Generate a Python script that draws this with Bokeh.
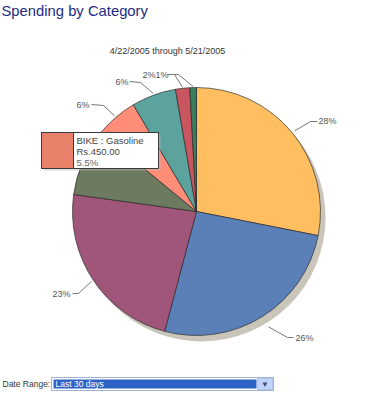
import math
from bokeh.plotting import figure
from bokeh.models import Range1d
from bokeh.core.properties import value
from bokeh.embed import file_html
from bokeh.resources import INLINE

# ---------------- data ----------------
categories = ["Category A", "Category B", "Category C", "Category D",
              "BIKE : Gasoline", "Category F", "Category G", "Category H"]
amounts = [2280, 2110, 1870, 710, 450, 470, 150, 70]
colors = ["#FFBF60", "#5B80B8", "#A0557A", "#6C7A5F",
          "#FF8D78", "#5CA39E", "#C9565F", "#3B7C5D"]
title_text = "Spending by Category"
subtitle_text = "4/22/2005 through 5/21/2005"
currency = "Rs."
tooltip_index = 4
date_range_label = "Date Range:"
date_range_value = "Last 30 days"

# ---------------- layout (page pixel coords) ----------------
FONT = value("Liberation Sans")
W, H = 372, 392
p = figure(width=W, height=H, output_backend="svg", toolbar_location=None,
           x_range=Range1d(0, W), y_range=Range1d(-H, 0),
           x_axis_type=None, y_axis_type=None, min_border=0,
           background_fill_color="white", border_fill_color="white")
p.outline_line_color = None
p.grid.visible = False


def Y(y):
    return -y


def txt(x, y, s, size, color, align="left", baseline="middle"):
    p.text(x=[x], y=[Y(y)], text=[s], text_font=FONT, text_font_size=size,
           text_color=color, text_align=align, text_baseline=baseline)


# titles
txt(1, 10, title_text, "14.8px", "#1E2B86")
txt(167, 50, subtitle_text, "9px", "#333333", align="center")

# pie
CX, CY, R = 196, 211, 124
total = float(sum(amounts))
fracs = [a / total for a in amounts]
cum = [0.0]
for f in fracs:
    cum.append(cum[-1] + f)
starts = [math.pi / 2 - 2 * math.pi * c for c in cum[:-1]]
ends = [math.pi / 2 - 2 * math.pi * c for c in cum[1:]]
mids = [2 * math.pi * (cum[i] + cum[i + 1]) / 2 for i in range(len(amounts))]

# shadow
p.circle(x=[CX + 5], y=[Y(CY + 6)], radius=R, fill_color="#C9C5B9",
         line_color=None)
p.wedge(x=[CX] * len(amounts), y=[Y(CY)] * len(amounts), radius=R,
        start_angle=starts, end_angle=ends, direction="clock",
        fill_color=colors, line_color="#2A2A2A", line_width=0.8,
        line_alpha=0.85)

# leader lines and percentage labels
label_layout = {
    0: dict(off=3, elbow=(310, 121), end=(317, 121), tx=318, ty=120, align="left"),
    1: dict(off=12, elbow=(287, 337), end=(293, 337), tx=295, ty=337, align="left"),
    2: dict(off=2, elbow=(78, 293), end=(72, 293), tx=70, ty=293, align="right"),
    4: dict(off=2, elbow=(103, 105), end=(91, 104), tx=89, ty=104, align="right"),
    5: dict(off=2, elbow=(140, 82), end=(129, 81), tx=128, ty=81, align="right"),
    6: dict(off=1, elbow=(174, 74), end=(167, 74), tx=155, ty=74, align="right"),
    7: dict(off=1, elbow=(178, 74), end=(167, 74), tx=155, ty=74, align="left"),
}
for i, L in label_layout.items():
    a = mids[i]
    r = R + L["off"]
    sx, sy = CX + r * math.sin(a), CY - r * math.cos(a)
    xs = [sx, L["elbow"][0], L["end"][0]]
    ys = [Y(sy), Y(L["elbow"][1]), Y(L["end"][1])]
    p.line(x=xs, y=ys, line_color="#777777", line_width=1)
    pct = "%d%%" % round(fracs[i] * 100)
    txt(L["tx"], L["ty"], pct, "9px", "#555555", align=L["align"])

# tooltip box
p.quad(left=[43], right=[160], top=[Y(134)], bottom=[Y(170)],
       fill_color="#BBBBBB", fill_alpha=0.5, line_color=None)
p.quad(left=[41], right=[158], top=[Y(132)], bottom=[Y(168)],
       fill_color="white", line_color="#3A3A3A", line_width=1)
p.quad(left=[41], right=[73], top=[Y(132)], bottom=[Y(168)],
       fill_color="#E8806A", line_color="#3A3A3A", line_width=1)
txt(76, 140, categories[tooltip_index], "9.5px", "#444444")
txt(76, 151, "%s%.2f" % (currency, amounts[tooltip_index]), "9.5px", "#444444")
txt(76, 162, "%.1f%%" % (fracs[tooltip_index] * 100), "9.5px", "#666666")

# date range selector
txt(2, 383.5, date_range_label, "8.5px", "#333333")
p.quad(left=[51], right=[273], top=[Y(377)], bottom=[Y(390)],
       fill_color="white", line_color="#9FB2CF", line_width=1)
p.quad(left=[53], right=[256], top=[Y(379)], bottom=[Y(388)],
       fill_color="#2F62C6", line_color=None)
p.quad(left=[257], right=[272], top=[Y(378)], bottom=[Y(389)],
       fill_color="#C3D4FB", line_color="#AFC3EE", line_width=1)
p.scatter(x=[264.5], y=[Y(383.5)], marker="inverted_triangle", size=5,
          fill_color="#3D4F7A", line_color=None)
txt(55, 383.5, date_range_value, "8.5px", "white")

open("out.html", "w").write(file_html(p, INLINE))
